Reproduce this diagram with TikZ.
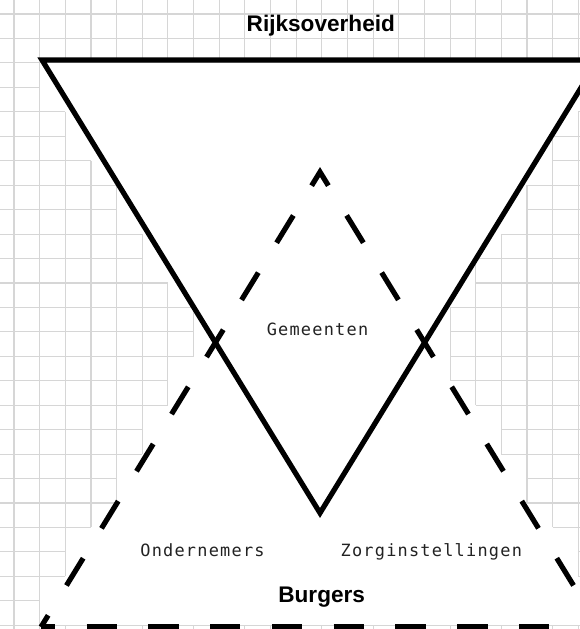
\documentclass[tikz,border=0pt]{standalone}
\usepackage{fontspec}
\setmainfont{Liberation Sans}
\newfontfamily\labelmono[LetterSpace=7.3]{DejaVu Sans Mono}
\usetikzlibrary{calc}
\definecolor{gridgray}{HTML}{D6D6D6}
\definecolor{inkblack}{HTML}{000000}
\definecolor{monotext}{HTML}{222222}
\tikzset{
  gridline/.style={draw=gridgray, line width=1.1pt},
  % grid cell positions, and which cells the two triangles cover
  declare function={
    gx(\i)=14+25.65*\i;
    gy(\j)=14+24.45*\j;
    topA(\j)=max(gy(\j),63);
    hitA(\i,\j)=(topA(\j)<gy(\j+1)-0.5)*(topA(\j)<513)*(gx(\i+1)>42+0.614*(topA(\j)-60)+0.5)*(gx(\i)<598-0.614*(topA(\j)-60)-0.5);
    botB(\j)=min(gy(\j+1),625);
    hitB(\i,\j)=(botB(\j)>max(gy(\j),172)+0.5)*(gx(\i+1)>320-0.614*(botB(\j)-172)+0.5)*(gx(\i)<320+0.614*(botB(\j)-172)-0.5);
    blank(\i,\j)=max(hitA(\i,\j),hitB(\i,\j));
  },
  % the two layers
  govtri/.style={draw=inkblack, line width=5.2pt, line join=miter, miter limit=10},
  sidetri/.style={draw=inkblack, line width=5.2pt, line join=miter, miter limit=10,
    dash pattern=on 32pt off 35pt, dash phase=18.3pt},
  basetri/.style={draw=inkblack, line width=5.2pt,
    dash pattern=on 30.3pt off 31.46pt, dash phase=16.1pt},
  tierhead/.style={font=\fontsize{22.6}{26}\selectfont\bfseries, text=inkblack,
    inner sep=0pt, anchor=base},
  actor/.style={font={\labelmono\fontsize{16.9}{20}\selectfont}, text=monotext,
    inner sep=0pt, anchor=base},
}

\begin{document}
\begin{tikzpicture}[x=1pt,y=-1pt]
  \useasboundingbox (0,0) rectangle (580,629);
  \clip (0,0) rectangle (580,629);
  \fill[white] (0,0) rectangle (580,629);
  % grid: an edge stays if a cell on either side is not covered
  \foreach \i in {-1,...,23} {
    \foreach \j in {-1,...,25} {
      \pgfmathtruncatemacro{\gone}{blank(\i-1,\j)*blank(\i,\j)}
      \ifnum\gone=0
        \draw[gridline] ({gx(\i)},{gy(\j)}) -- ({gx(\i)},{gy(\j+1)});
      \fi
    }
  }
  \foreach \i in {-1,...,22} {
    \foreach \j in {-1,...,26} {
      \pgfmathtruncatemacro{\gone}{blank(\i,\j-1)*blank(\i,\j)}
      \ifnum\gone=0
        \draw[gridline] ({gx(\i)},{gy(\j)}) -- ({gx(\i+1)},{gy(\j)});
      \fi
    }
  }
  \coordinate (rijkL) at (42,60);
  \coordinate (rijkR) at (598,60);
  \coordinate (rijkP) at (320,513);
  \coordinate (burgT) at (320,172);
  \coordinate (burgL) at (41,627);
  \coordinate (burgR) at (599,627);
  \draw[govtri] (rijkL) -- (rijkR) -- (rijkP) -- cycle;
  \draw[sidetri] (burgL) -- (burgT) -- (burgR);
  \draw[basetri] (burgL) -- (burgR);
  \node[tierhead] (rijk) at (320.8,31.5) {Rijksoverheid};
  \node[tierhead] (burg) at (321.7,602.5) {Burgers};
  \foreach \nm/\px/\py/\txt in {gem/317.5/335/Gemeenten, ond/202.5/556/Ondernemers,
                                zorg/431.3/556/Zorginstellingen}
    \node[actor] (\nm) at (\px,\py) {\txt};
\end{tikzpicture}
\end{document}
